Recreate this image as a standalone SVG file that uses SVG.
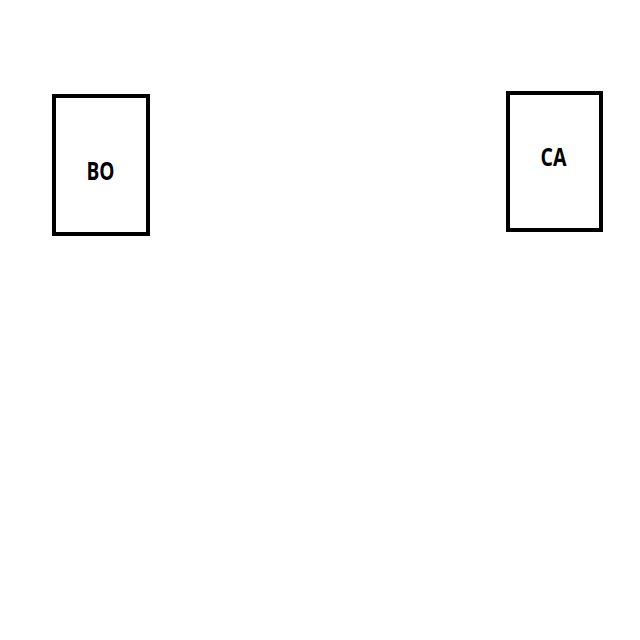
<svg xmlns="http://www.w3.org/2000/svg" width="640" height="640" viewBox="0 0 640 640">
<style>
.box{fill:#ffffff;stroke:#000000;stroke-width:4}
.lbl{font-family:"Open Sans","DejaVu Sans",sans-serif;font-weight:bold;font-size:25px;fill:#000000;text-anchor:middle}
</style>
<rect width="640" height="640" fill="#ffffff"/>
<g id="connectors"></g>
<g id="BO">
<rect class="box" x="54" y="96" width="94" height="138"/>
<text class="lbl" x="100.5" y="180" textLength="28" lengthAdjust="spacingAndGlyphs">BO</text>
</g>
<g id="CA">
<rect class="box" x="508" y="93" width="93" height="137"/>
<text class="lbl" x="553.5" y="166" textLength="26" lengthAdjust="spacingAndGlyphs">CA</text>
</g>
</svg>
